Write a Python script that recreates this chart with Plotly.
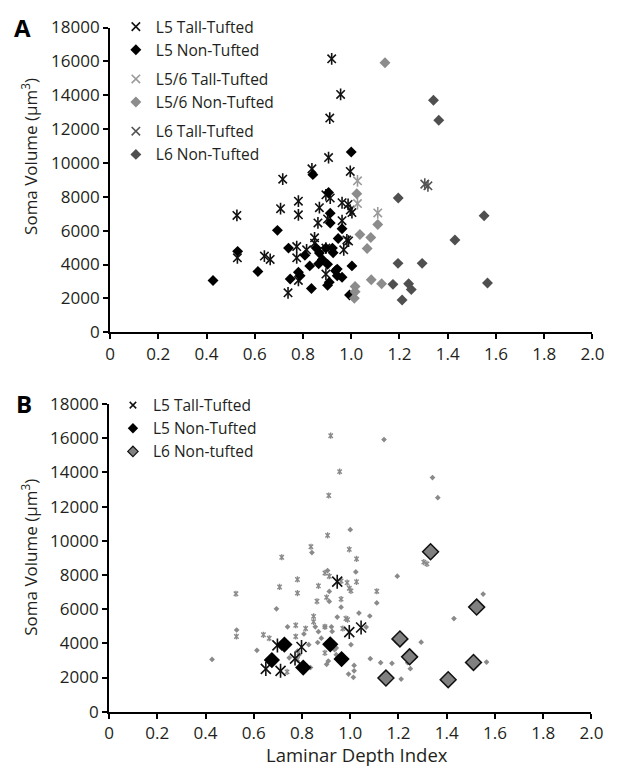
import plotly.graph_objects as go

# ---------------- Panel A data ----------------
a_l5_tt_x = [0.919, 0.956, 0.911, 0.906, 0.996, 0.837, 0.716, 0.526, 0.781, 0.707, 0.781, 0.895,
             0.913, 0.868, 0.862, 0.902, 0.962, 0.987, 1.003, 0.962, 0.528, 0.640, 0.664, 0.774,
             0.774, 0.848, 0.848, 0.969, 0.989, 0.895, 0.781, 0.738, 0.815, 0.895, 0.982, 0.996]
a_l5_tt_y = [16150, 14050, 12650, 10320, 9500, 9650, 9040, 6900, 7740, 7300, 6940, 8120,
             7930, 7360, 6460, 6690, 7650, 7550, 7070, 6590, 4400, 4500, 4300, 5060,
             4400, 5580, 5260, 4870, 5390, 3440, 3060, 2330, 4870, 4970, 5450, 7220]

a_l5_nt_x = [1.000, 0.841, 0.906, 0.913, 0.913, 0.962, 0.694, 0.529, 0.613, 0.427, 0.740, 0.808,
             0.855, 0.868, 0.895, 0.922, 0.946, 0.828, 0.902, 0.942, 0.942, 0.962, 1.003, 0.747,
             0.781, 0.788, 0.835, 0.902, 0.993, 0.865, 0.909, 0.935, 0.925, 0.880]
a_l5_nt_y = [10650, 9310, 8260, 7035, 6450, 6115, 6020, 4780, 3590, 3060, 4970, 4550,
             4970, 4680, 4970, 4970, 5540, 3920, 4010, 3730, 3340, 3250, 3920, 3150,
             3540, 3340, 2580, 2770, 2200, 4050, 2960, 3630, 4700, 4300]

a_l56_tt_x = [1.026, 1.026, 1.110]
a_l56_tt_y = [8945, 7600, 7050]

a_l56_nt_x = [1.140, 1.023, 1.110, 1.036, 1.081, 1.066, 1.083, 1.126, 1.016, 1.016, 1.013]
a_l56_nt_y = [15920, 8180, 6365, 5770, 5600, 4950, 3100, 2870, 2710, 2390, 2010]

a_l6_tt_x = [1.305, 1.318]
a_l6_tt_y = [8750, 8650]

a_l6_nt_x = [1.341, 1.363, 1.195, 1.551, 1.430, 1.194, 1.294, 1.173, 1.238, 1.249, 1.565, 1.211]
a_l6_nt_y = [13700, 12520, 7930, 6880, 5450, 4070, 4070, 2830, 2870, 2520, 2905, 1910]

# ---------------- Panel B highlighted data ----------------
b_l5_tt_x = [0.946, 0.996, 1.045, 0.698, 0.650, 0.711, 0.798, 0.771]
b_l5_tt_y = [7610, 4660, 4930, 3880, 2505, 2390, 3785, 3110]

b_l5_nt_x = [0.727, 0.675, 0.805, 0.917, 0.964]
b_l5_nt_y = [3930, 3020, 2580, 3940, 3080]

b_l6_nt_x = [1.333, 1.524, 1.206, 1.246, 1.511, 1.148, 1.406]
b_l6_nt_y = [9360, 6120, 4260, 3210, 2885, 1970, 1875]

x_tickvals = [0, 0.2, 0.4, 0.6, 0.8, 1.0, 1.2, 1.4, 1.6, 1.8, 2.0]
x_ticktext = ["0", "0.2", "0.4", "0.6", "0.8", "1.0", "1.2", "1.4", "1.6", "1.8", "2.0"]
y_tickvals = [0, 2000, 4000, 6000, 8000, 10000, 12000, 14000, 16000, 18000]
y_ticktext = [str(v) for v in y_tickvals]

W, H = 619, 779
FONT = "Open Sans"
TXT = "#231f20"


def fx(p):
    return p / W


def fy(p):
    return 1 - p / H


fig = go.Figure()


def add_star(x, y, color, size, width, name, group, xa, ya, legend, showlegend=True):
    fig.add_trace(go.Scatter(
        x=x, y=y, mode="markers", name=name, legendgroup=group, showlegend=showlegend,
        legend=legend, xaxis=xa, yaxis=ya,
        marker=dict(symbol="x-thin", size=size, color=color, line=dict(color=color, width=width))))
    fig.add_trace(go.Scatter(
        x=x, y=y, mode="markers", name=name, legendgroup=group, showlegend=False,
        legend=legend, xaxis=xa, yaxis=ya,
        marker=dict(symbol="line-ns", size=size, color=color, line=dict(color=color, width=width))))


def add_diamond(x, y, color, size, name, group, xa, ya, legend, lcolor=None, lwidth=0, showlegend=True):
    fig.add_trace(go.Scatter(
        x=x, y=y, mode="markers", name=name, legendgroup=group, showlegend=showlegend,
        legend=legend, xaxis=xa, yaxis=ya,
        marker=dict(symbol="diamond", size=size, color=color,
                    line=dict(color=lcolor if lcolor else color, width=lwidth))))


# ---- Panel A ----
add_star(a_l5_tt_x, a_l5_tt_y, "#111111", 8.4, 1.6, "L5 Tall-Tufted", "L5", "x", "y", "legend")
add_diamond(a_l5_nt_x, a_l5_nt_y, "#000000", 8.4, "L5 Non-Tufted", "L5", "x", "y", "legend")
add_star(a_l56_tt_x, a_l56_tt_y, "#9a9a9a", 8.4, 1.6, "L5/6 Tall-Tufted", "L56", "x", "y", "legend")
add_diamond(a_l56_nt_x, a_l56_nt_y, "#8c8c8c", 8.4, "L5/6 Non-Tufted", "L56", "x", "y", "legend")
add_star(a_l6_tt_x, a_l6_tt_y, "#545454", 8.4, 1.6, "L6 Tall-Tufted", "L6", "x", "y", "legend")
add_diamond(a_l6_nt_x, a_l6_nt_y, "#4f4f4f", 8.4, "L6 Non-Tufted", "L6", "x", "y", "legend")

# ---- Panel B background (all cells, small gray) ----
bg_star_x = a_l5_tt_x + a_l56_tt_x + a_l6_tt_x
bg_star_y = a_l5_tt_y + a_l56_tt_y + a_l6_tt_y
bg_dia_x = a_l5_nt_x + a_l56_nt_x + a_l6_nt_x
bg_dia_y = a_l5_nt_y + a_l56_nt_y + a_l6_nt_y
add_star(bg_star_x, bg_star_y, "#8a8a8a", 4.4, 1.4, "all", "bg", "x2", "y2", "legend2", showlegend=False)
add_diamond(bg_dia_x, bg_dia_y, "#8a8a8a", 4.4, "all", "bg", "x2", "y2", "legend2", showlegend=False)

# ---- Panel B highlighted ----
add_star(b_l5_tt_x, b_l5_tt_y, "#111111", 10, 1.6, "L5 Tall-Tufted", "B1", "x2", "y2", "legend2",
         showlegend=False)
add_diamond(b_l5_nt_x, b_l5_nt_y, "#000000", 12.5, "L5 Non-Tufted", "B2", "x2", "y2", "legend2",
            showlegend=False)
add_diamond(b_l6_nt_x, b_l6_nt_y, "#808080", 12.2, "L6 Non-tufted", "B3", "x2", "y2", "legend2",
            lcolor="#111111", lwidth=1.5, showlegend=False)

# legend-only entries for panel B (smaller glyphs, no data drawn)
fig.add_trace(go.Scatter(x=[None], y=[None], mode="markers", name="L5 Tall-Tufted", legend="legend2",
                         xaxis="x2", yaxis="y2",
                         marker=dict(symbol="x-thin", size=6.5, line=dict(color="#111111", width=1.5))))
fig.add_trace(go.Scatter(x=[None], y=[None], mode="markers", name="L5 Non-Tufted", legend="legend2",
                         xaxis="x2", yaxis="y2",
                         marker=dict(symbol="diamond", size=8, color="#000000")))
fig.add_trace(go.Scatter(x=[None], y=[None], mode="markers", name="L6 Non-tufted", legend="legend2",
                         xaxis="x2", yaxis="y2",
                         marker=dict(symbol="diamond", size=8, color="#808080",
                                     line=dict(color="#111111", width=1.2))))

axis_common = dict(showline=True, linecolor="#000000", linewidth=2, ticks="outside", ticklen=5,
                   tickwidth=2, tickcolor="#000000", showgrid=False, zeroline=False,
                   tickfont=dict(family=FONT, size=17, color=TXT), fixedrange=True)

fig.update_layout(
    width=W, height=H, autosize=False,
    margin=dict(l=0, r=0, t=0, b=0, pad=0),
    paper_bgcolor="white", plot_bgcolor="white",
    font=dict(family=FONT, color=TXT),
    xaxis=dict(domain=[fx(108), fx(604)], range=[0, 2], anchor="y",
               tickmode="array", tickvals=x_tickvals, ticktext=x_ticktext, **axis_common),
    yaxis=dict(domain=[fy(330), fy(16)], range=[0, 18000], anchor="x",
               tickmode="array", tickvals=y_tickvals, ticktext=y_ticktext, **axis_common),
    xaxis2=dict(domain=[fx(107), fx(603)], range=[0, 2], anchor="y2",
                tickmode="array", tickvals=x_tickvals, ticktext=x_ticktext, **axis_common),
    yaxis2=dict(domain=[fy(721), fy(404)], range=[0, 18000], anchor="x2",
                tickmode="array", tickvals=y_tickvals, ticktext=y_ticktext, **axis_common),
    legend=dict(x=fx(114), y=fy(-2), xanchor="left", yanchor="top", bgcolor="rgba(0,0,0,0)",
                font=dict(family=FONT, size=15.5, color=TXT), traceorder="grouped",
                tracegroupgap=6, itemsizing="trace", borderwidth=0),
    legend2=dict(x=fx(111), y=fy(388), xanchor="left", yanchor="top", bgcolor="rgba(0,0,0,0)",
                 font=dict(family=FONT, size=15.5, color=TXT), traceorder="normal",
                 itemsizing="trace", borderwidth=0),
    showlegend=True,
)

ann = [
    dict(text="<b>A</b>", x=fx(18), y=fy(16), font=dict(family=FONT, size=24, color="#000")),
    dict(text="<b>B</b>", x=fx(20), y=fy(403), font=dict(family=FONT, size=24, color="#000")),
    dict(text="Soma Volume (µm<sup>3</sup>)", x=fx(25), y=fy(149), textangle=-90,
         font=dict(family=FONT, size=17, color=TXT)),
    dict(text="Soma Volume (µm<sup>3</sup>)", x=fx(25), y=fy(562), textangle=-90,
         font=dict(family=FONT, size=17, color=TXT)),
    dict(text="Laminar Depth Index", x=fx(362), y=fy(765),
         font=dict(family=FONT, size=18.5, color=TXT)),
]
for a in ann:
    a.update(xref="paper", yref="paper", showarrow=False, xanchor="center", yanchor="middle")
fig.update_layout(annotations=ann)

fig.write_html("out.html")
